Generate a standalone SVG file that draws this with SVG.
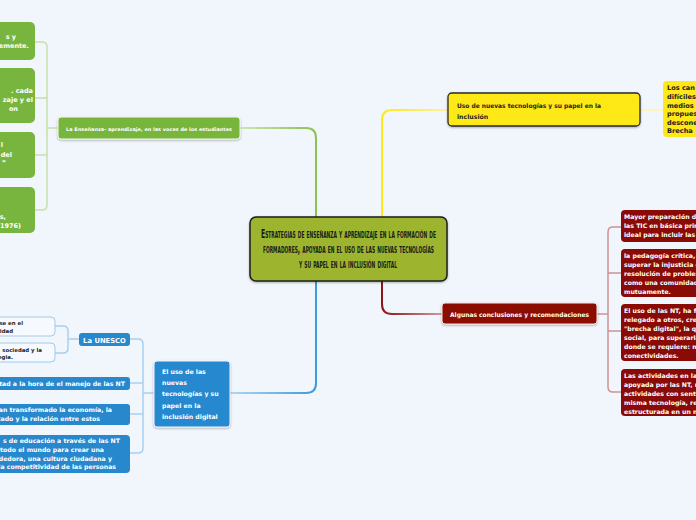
<svg xmlns="http://www.w3.org/2000/svg" width="696" height="520" viewBox="0 0 696 520">
<defs>
<filter id="sh" x="-10%" y="-20%" width="120%" height="150%"><feDropShadow dx="0" dy="1" stdDeviation="1" flood-color="#000" flood-opacity="0.3"/></filter>
<linearGradient id="gG" gradientUnits="userSpaceOnUse" x1="240" y1="0" x2="316" y2="0"><stop offset="0" stop-color="#cfe6b3"/><stop offset="1" stop-color="#8cc152"/></linearGradient>
<linearGradient id="gY" gradientUnits="userSpaceOnUse" x1="382" y1="0" x2="448" y2="0"><stop offset="0" stop-color="#ffe817"/><stop offset="1" stop-color="#fff0a0"/></linearGradient>
<linearGradient id="gR" gradientUnits="userSpaceOnUse" x1="382" y1="0" x2="442" y2="0"><stop offset="0" stop-color="#8e1414"/><stop offset="1" stop-color="#d19a9a"/></linearGradient>
<linearGradient id="gB" gradientUnits="userSpaceOnUse" x1="230" y1="0" x2="316" y2="0"><stop offset="0" stop-color="#b3d6f0"/><stop offset="1" stop-color="#3b9bdb"/></linearGradient>
</defs>
<style>
.t{font-family:"DejaVu Sans",Verdana,sans-serif;font-weight:bold;font-size:6.2px;fill:#fff}
.d{fill:#1e1e1e}
.c{fill:none;stroke-width:1.5}
.m{fill:none;stroke-width:2}
.ctr{font-family:"DejaVu Sans Condensed","DejaVu Sans",sans-serif;font-weight:bold;font-variant:small-caps;font-size:12.5px;fill:#1a1a1a}
</style>
<rect width="696" height="520" fill="#f1f5fc"/>

<g id="connectors">
<path class="m" stroke="url(#gG)" d="M316,217 V138 Q316,128 306,128 H240"/>
<path class="m" stroke="url(#gY)" d="M382,217 V120 Q382,110 392,110 H448"/>
<path class="m" stroke="url(#gR)" d="M382,281 V304 Q382,314 392,314 H442"/>
<path class="m" stroke="url(#gB)" d="M316,281 V383 Q316,393 306,393 H230"/>
<path class="c" stroke="#fff3a8" d="M640,110 H663"/>
<path class="c" stroke="#c6e1a9" d="M58,128 H47 M35,42 H42 Q47,42 47,47 V205 Q47,210 42,210 H35 M47,98 H35 M47,155 H35"/>
<path class="c" stroke="#cf9194" d="M597,314 H608 M621,227 H613 Q608,227 608,232 V387 Q608,392 613,392 H621 M608,273 H621 M608,331 H621"/>
<path class="c" stroke="#a9cfee" d="M154,393 H143 M130,339 H138 Q143,339 143,344 V448 Q143,453 138,453 H130 M143,383 H130 M143,414 H130 M79,339 H68 M55,326 H63 Q68,326 68,331 V348 Q68,353 63,353 H55"/>
</g>

<g id="center">
<rect x="250" y="217" width="197" height="64" rx="6" fill="#9db52f" stroke="#1e1e1e" stroke-width="1.5" filter="url(#sh)"/>
<text class="ctr" x="261" y="238" textLength="175" lengthAdjust="spacingAndGlyphs">Estrategias de enseñanza y aprendizaje en la formación de</text>
<text class="ctr" x="263" y="253" textLength="171" lengthAdjust="spacingAndGlyphs">formadores, apoyada en el uso de las nuevas tecnologías</text>
<text class="ctr" x="299" y="268" textLength="98" lengthAdjust="spacingAndGlyphs">y su papel en la inclusión digital</text>
</g>

<g id="yellow-node">
<rect x="448" y="93" width="192" height="33" rx="4" fill="#fee818" stroke="#2a2a2a" stroke-width="1.3" filter="url(#sh)"/>
<text class="t d" x="457" y="108" textLength="144" lengthAdjust="spacingAndGlyphs">Uso de nuevas tecnologías y su papel en la</text>
<text class="t d" x="457" y="119">inclusión</text>
</g>

<g id="yellow-child">
<rect x="663" y="81" width="60" height="56" rx="4" fill="#fee818"/>
<text class="t d" x="667" y="90" style="font-size:6.6px">Los can</text>
<text class="t d" x="667" y="99" style="font-size:6.6px">difíciles</text>
<text class="t d" x="667" y="107.5" style="font-size:6.6px">medios</text>
<text class="t d" x="667" y="116" style="font-size:6.6px">propues</text>
<text class="t d" x="667" y="124.5" style="font-size:6.6px">descone</text>
<text class="t d" x="667" y="133" style="font-size:6.6px">Brecha</text>
</g>

<g id="red-node">
<rect x="442" y="303" width="155" height="21" rx="3" fill="#8a0a06" stroke="#f4e6e6" stroke-width="1" filter="url(#sh)"/>
<text class="t" x="450" y="317" textLength="139" lengthAdjust="spacingAndGlyphs">Algunas conclusiones y recomendaciones</text>
</g>

<g id="red-child-1">
<rect x="621" y="210" width="90" height="32" rx="4" fill="#8a0a06"/>
<text class="t" x="624" y="219">Mayor preparación de</text>
<text class="t" x="624" y="228">las TIC en básica prin</text>
<text class="t" x="624" y="237">ideal para incluir las T</text>
</g>
<g id="red-child-2">
<rect x="621" y="249" width="90" height="48" rx="4" fill="#8a0a06"/>
<text class="t" x="624" y="258">la pedagogía crítica,</text>
<text class="t" x="624" y="267">superar la injusticia e</text>
<text class="t" x="624" y="276">resolución de problem</text>
<text class="t" x="624" y="285">como una comunidad</text>
<text class="t" x="624" y="294">mutuamente.</text>
</g>
<g id="red-child-3">
<rect x="621" y="304" width="90" height="57" rx="4" fill="#8a0a06"/>
<text class="t" x="624" y="313">El uso de las NT, ha fa</text>
<text class="t" x="624" y="322">relegado a otros, crea</text>
<text class="t" x="624" y="331">"brecha digital", la qu</text>
<text class="t" x="624" y="340">social, para superarla</text>
<text class="t" x="624" y="349">donde se requiere: m</text>
<text class="t" x="624" y="358">conectividades.</text>
</g>
<g id="red-child-4">
<rect x="621" y="369" width="90" height="47" rx="4" fill="#8a0a06"/>
<text class="t" x="624" y="378">Las actividades en la</text>
<text class="t" x="624" y="387">apoyada por las NT, r</text>
<text class="t" x="624" y="396">actividades con senti</text>
<text class="t" x="624" y="405">misma tecnología,  re</text>
<text class="t" x="624" y="414">estructurada en un m</text>
</g>

<g id="green-node">
<rect x="58" y="117" width="182" height="22" rx="3" fill="#78b53e" stroke="#f4f8ee" stroke-width="1" filter="url(#sh)"/>
<text class="t" x="66" y="131" style="font-size:4.8px" textLength="166" lengthAdjust="spacingAndGlyphs">La Enseñanza- aprendizaje, en las voces de los estudiantes</text>
</g>
<g id="green-child-1">
<rect x="-20" y="22" width="55" height="38" rx="5" fill="#78b53e"/>
<text class="t" x="16" y="39" text-anchor="end" style="font-size:6.5px">s y</text>
<text class="t" x="29" y="48" text-anchor="end" style="font-size:6.5px">emente.</text>
</g>
<g id="green-child-2">
<rect x="-20" y="68" width="55" height="55" rx="5" fill="#78b53e"/>
<text class="t" x="33" y="93" text-anchor="end" style="font-size:6.5px">. cada</text>
<text class="t" x="33" y="102" text-anchor="end" style="font-size:6.5px">zaje y el</text>
<text class="t" x="18" y="110.5" text-anchor="end" style="font-size:6.5px">on</text>
</g>
<g id="green-child-3">
<rect x="-20" y="132" width="55" height="46" rx="5" fill="#78b53e"/>
<text class="t" x="3" y="147" text-anchor="end" style="font-size:6.5px">l</text>
<text class="t" x="12" y="157" text-anchor="end" style="font-size:6.5px">del</text>
<text class="t" x="6" y="165" text-anchor="end" style="font-size:6.5px">”</text>
</g>
<g id="green-child-4">
<rect x="-20" y="187" width="55" height="46" rx="5" fill="#78b53e"/>
<text class="t" x="6" y="219" text-anchor="end" style="font-size:6.5px">s,</text>
<text class="t" x="21" y="228" text-anchor="end" style="font-size:6.5px">1976)</text>
</g>

<g id="blue-node">
<rect x="154" y="361" width="76" height="66" rx="3" fill="#2788ce" stroke="#f0f6fc" stroke-width="1" filter="url(#sh)"/>
<text class="t" x="162" y="374">El uso de las</text>
<text class="t" x="162" y="385">nuevas</text>
<text class="t" x="162" y="396">tecnologías y su</text>
<text class="t" x="162" y="407.5">papel en la</text>
<text class="t" x="162" y="418.5">inclusión digital</text>
</g>
<g id="unesco">
<rect x="79" y="333" width="51" height="13" rx="3" fill="#2788ce"/>
<text class="t" x="104.5" y="342.5" text-anchor="middle" style="font-size:6.8px">La UNESCO</text>
</g>
<g id="unesco-child-1">
<rect x="-20" y="317" width="75" height="19" rx="4" fill="#f6f9fe" stroke="#9ecbec" stroke-width="1"/>
<text class="t d" x="23" y="325" text-anchor="end" style="font-size:5.4px">se en el</text>
<text class="t d" x="13" y="333" text-anchor="end" style="font-size:5.4px">idad</text>
</g>
<g id="unesco-child-2">
<rect x="-20" y="343" width="75" height="19" rx="4" fill="#f6f9fe" stroke="#9ecbec" stroke-width="1"/>
<text class="t d" x="42" y="352" text-anchor="end" style="font-size:5.4px">sociedad y la</text>
<text class="t d" x="13" y="359" text-anchor="end" style="font-size:5.4px">egia.</text>
</g>
<g id="blue-child-1">
<rect x="-20" y="377" width="150" height="13" rx="3" fill="#2788ce"/>
<text class="t" x="125" y="386" text-anchor="end">ultad a la hora de el manejo de las NT</text>
</g>
<g id="blue-child-2">
<rect x="-20" y="404" width="150" height="21" rx="3" fill="#2788ce"/>
<text class="t" x="112" y="412" text-anchor="end">han transformado la economía, la</text>
<text class="t" x="100" y="421" text-anchor="end">tado y la relación entre estos</text>
</g>
<g id="blue-child-3">
<rect x="-20" y="435" width="150" height="38" rx="4" fill="#2788ce"/>
<text class="t" x="120" y="443" text-anchor="end">s de educación a través de las NT</text>
<text class="t" x="104" y="452" text-anchor="end">n todo el mundo para crear una</text>
<text class="t" x="112" y="460.5" text-anchor="end">ndedora, una cultura ciudadana y</text>
<text class="t" x="116" y="469" text-anchor="end">r la competitividad de las personas</text>
</g>
</svg>
